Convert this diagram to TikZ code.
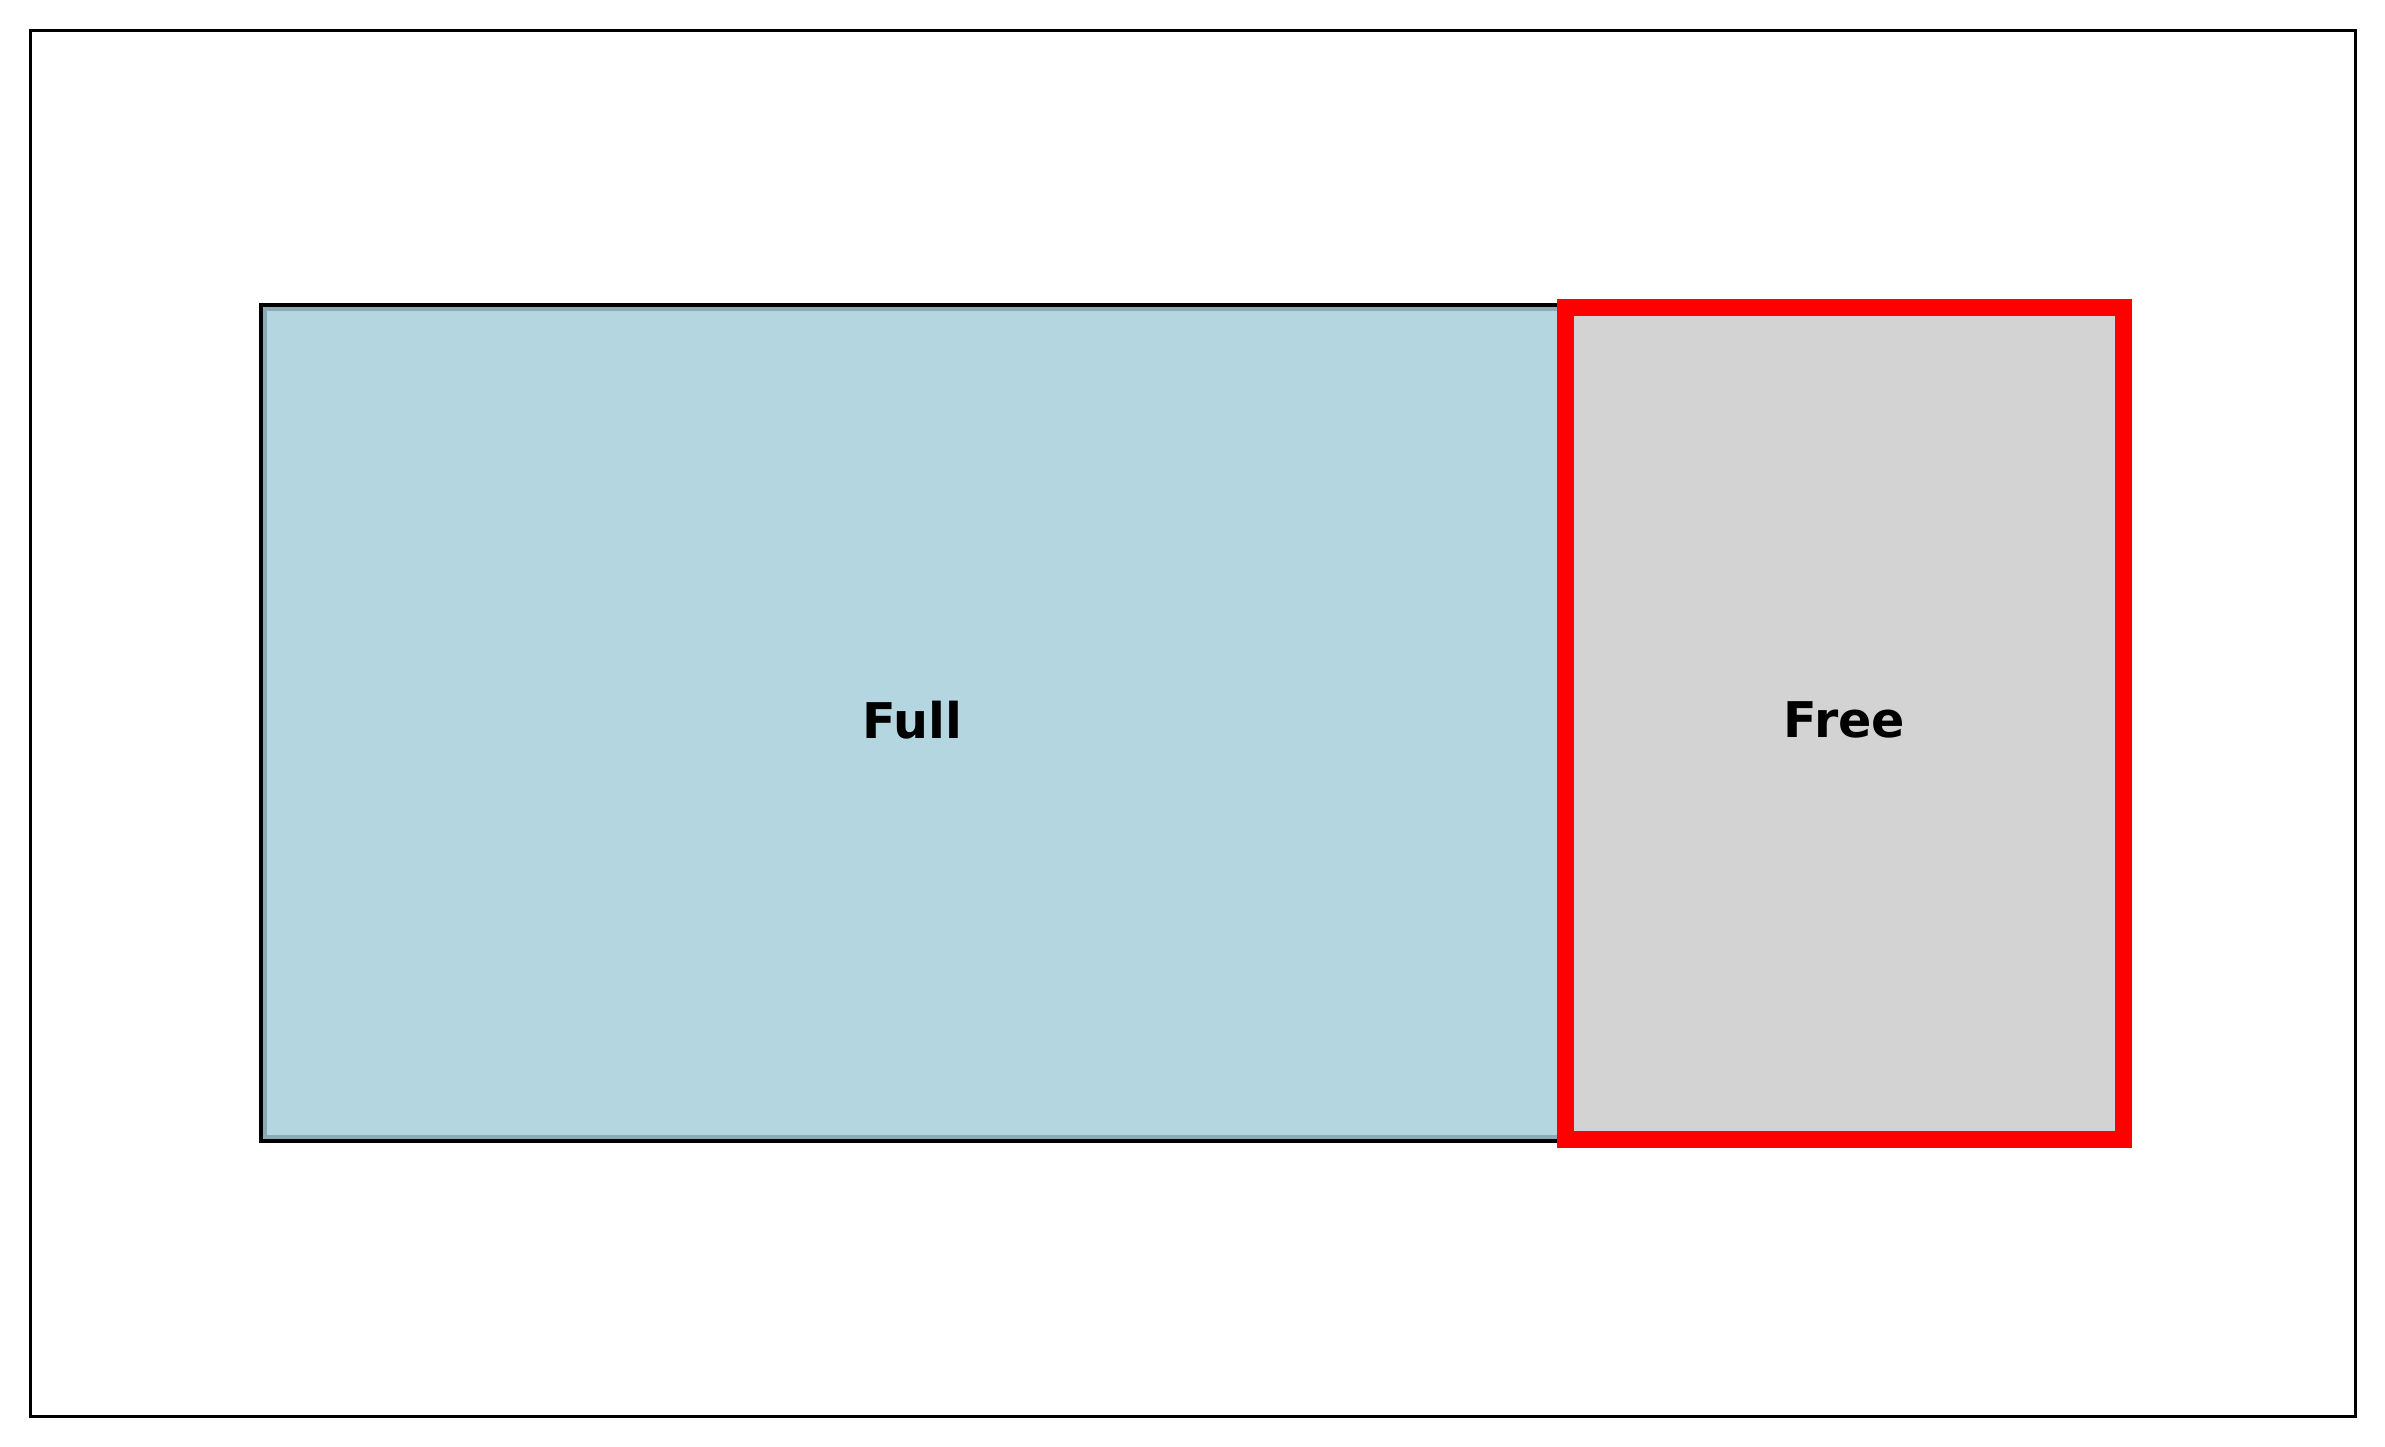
\documentclass[tikz,border=0pt]{standalone}
\usepackage{fontspec}
\setmainfont{DejaVu Sans}
\definecolor{fullblue}{RGB}{180,214,225}
\definecolor{bandblue}{RGB}{138,170,181}
\definecolor{freegray}{RGB}{211,211,211}

\begin{document}
\begin{tikzpicture}
\tikzstyle{lbl} = [font=\bfseries\fontsize{14}{16}\selectfont, inner sep=0pt]
\tikzstyle{freebox} = [rectangle, draw=red, line width=0.17cm, fill=freegray, minimum width=5.58cm, minimum height=8.32cm, inner sep=0pt]
\useasboundingbox (0,0) rectangle (23.85,14.46);
\draw[line width=0.03cm] (0.305,0.295) rectangle (23.555,14.155); %outer frame
% used part
\draw[line width=0.04cm, fill=fullblue] (2.61,3.05) rectangle (15.64,11.41);
\draw[bandblue, line width=0.04cm] (2.65,3.09) rectangle (15.60,11.37);
\node[lbl] (full) at (9.125,7.26) {Full};
% free part, drawn on top
\node[freebox] (free) at (18.445,7.225) {};
\node[lbl] (freetxt) at ([yshift=0.035cm]free.center) {Free};
\end{tikzpicture}
\end{document}
